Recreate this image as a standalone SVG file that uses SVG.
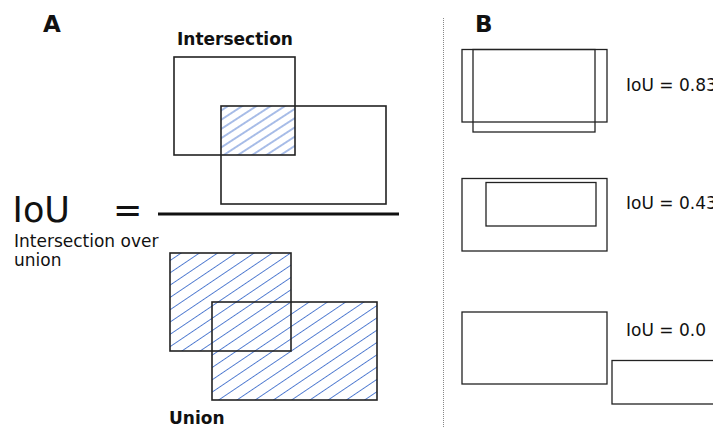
<svg xmlns="http://www.w3.org/2000/svg" width="713" height="428" viewBox="0 0 713 428">
<style>
.box{fill:none;stroke:#222;stroke-width:1.6}
.bbox{fill:none;stroke:#222;stroke-width:1.3}
.t{font-family:"DejaVu Sans","Liberation Sans",sans-serif;fill:#111}
.b{font-weight:bold}
</style>
<defs>
<pattern id="hatchI" patternUnits="userSpaceOnUse" width="40" height="7.75" patternTransform="rotate(-33)">
<line x1="0" y1="3.9" x2="40" y2="3.9" stroke="#4f7ad0" stroke-width="1"/>
</pattern>
<pattern id="hatchU" patternUnits="userSpaceOnUse" width="40" height="10.2" patternTransform="rotate(-34)">
<line x1="0" y1="5.1" x2="40" y2="5.1" stroke="#4f7ad0" stroke-width="1"/>
</pattern>
</defs>
<rect width="713" height="428" fill="#fff"/>

<g id="panelA">
<text class="t b" x="43" y="32" font-size="23">A</text>
<g id="intersection">
<text class="t b" x="177" y="45" font-size="17">Intersection</text>
<rect x="221" y="106" width="74" height="49" fill="url(#hatchI)"/>
<rect class="box" x="174" y="57" width="121" height="98"/>
<rect class="box" x="221" y="106" width="165" height="98"/>
</g>
<g id="equation">
<text class="t" x="12.6" y="222" font-size="35">IoU</text>
<text class="t" x="113" y="222" font-size="35">=</text>
<line x1="158" y1="214" x2="399" y2="214" stroke="#111" stroke-width="3"/>
<text class="t" x="14" y="247" font-size="17">Intersection over</text>
<text class="t" x="14" y="266" font-size="17">union</text>
</g>
<g id="union">
<path d="M170 253H291V351H170Z M212 302H377V400H212Z" fill="url(#hatchU)" fill-rule="nonzero"/>
<rect class="box" x="170" y="253" width="121" height="98"/>
<rect class="box" x="212" y="302" width="165" height="98"/>
<text class="t b" x="169" y="424" font-size="17">Union</text>
</g>
</g>

<g id="connectors">
<line x1="443.5" y1="18" x2="443.5" y2="428" stroke="#888" stroke-width="1" stroke-dasharray="1,1"/>
</g>

<g id="panelB">
<text class="t b" x="475" y="32" font-size="23">B</text>
<g id="iou083">
<rect class="bbox" x="462" y="49.5" width="145" height="72.5"/>
<rect class="bbox" x="473" y="49.5" width="122" height="82.5"/>
<text class="t" x="626" y="91" font-size="17">IoU = 0.83</text>
</g>
<g id="iou043">
<rect class="bbox" x="462" y="178.5" width="145" height="72.5"/>
<rect class="bbox" x="486" y="182.5" width="110" height="43.5"/>
<text class="t" x="626" y="209" font-size="17">IoU = 0.43</text>
</g>
<g id="iou00">
<rect class="bbox" x="462" y="312" width="145" height="72"/>
<rect class="bbox" x="612" y="360.5" width="120" height="43.5"/>
<text class="t" x="626" y="336" font-size="17">IoU = 0.0</text>
</g>
</g>
</svg>
